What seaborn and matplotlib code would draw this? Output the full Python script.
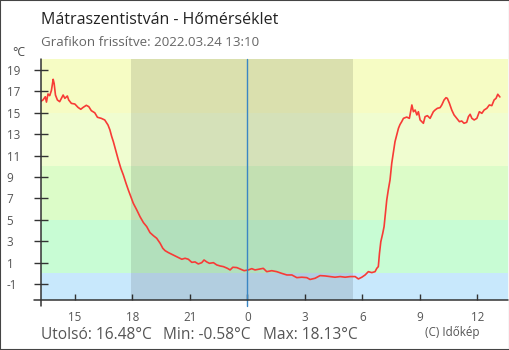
import matplotlib
matplotlib.use("Agg")
import matplotlib.pyplot as plt
from matplotlib.patches import Rectangle
import pandas as pd
import seaborn as sns

# Temperature record, hours relative to midnight of 2022-03-24
hours = [-10.80, -10.66, -10.54, -10.48, -10.40, -10.31, -10.22, -10.13, -10.08, -10.01,
         -9.91, -9.79, -9.70, -9.61, -9.52, -9.39, -9.32, -9.18, -9.00, -8.83,
         -8.69, -8.57, -8.40, -8.27, -8.14, -7.96, -7.82, -7.62, -7.44, -7.27,
         -7.17, -7.08, -6.99, -6.85, -6.73, -6.60, -6.47, -6.33, -6.21, -6.08,
         -5.95, -5.77, -5.60, -5.42, -5.25, -5.08, -4.90, -4.73, -4.55, -4.41,
         -4.29, -4.12, -3.94, -3.77, -3.60, -3.42, -3.25, -3.08, -2.90, -2.73,
         -2.56, -2.38, -2.26, -2.12, -1.98, -1.77, -1.60, -1.42, -1.25, -1.04,
         -0.90, -0.76, -0.55, -0.38, -0.17, 0.05, 0.23, 0.40, 0.57, 0.83,
         1.01, 1.27, 1.53, 1.79, 2.06, 2.32, 2.58, 2.84, 3.10, 3.27,
         3.53, 3.79, 4.05, 4.31, 4.57, 4.84, 5.10, 5.36, 5.62, 5.79,
         5.97, 6.14, 6.31, 6.49, 6.66, 6.75, 6.83, 6.89, 6.96, 7.06,
         7.13, 7.20, 7.27, 7.35, 7.44, 7.53, 7.62, 7.70, 7.79, 7.88,
         7.96, 8.05, 8.14, 8.31, 8.45, 8.58, 8.66, 8.75, 8.84, 8.92,
         9.01, 9.10, 9.18, 9.27, 9.39, 9.53, 9.62, 9.70, 9.79, 9.91,
         10.05, 10.14, 10.26, 10.36, 10.43, 10.54, 10.66, 10.78, 10.92, 11.06,
         11.18, 11.30, 11.44, 11.53, 11.62, 11.71, 11.83, 11.97, 12.10, 12.23,
         12.35, 12.49, 12.62, 12.75, 12.87, 12.97, 13.06, 13.17]
temps = [16.04, 16.20, 16.50, 16.00, 16.76, 16.60, 17.10, 18.13, 17.75, 16.66,
         16.20, 16.04, 16.35, 16.66, 16.35, 16.57, 16.20, 15.88, 15.82, 15.50,
         15.33, 15.50, 15.70, 15.57, 15.20, 15.00, 14.58, 14.48, 14.33, 13.86,
         13.40, 12.80, 12.30, 11.36, 10.59, 9.81, 9.19, 8.41, 7.79, 7.16,
         6.54, 5.92, 5.29, 4.73, 4.36, 3.80, 3.51, 3.27, 2.80, 2.33,
         2.11, 1.93, 1.77, 1.61, 1.46, 1.31, 1.40, 1.31, 1.02, 1.06,
         0.87, 0.99, 1.24, 1.06, 0.93, 0.99, 0.78, 0.68, 0.62, 0.46,
         0.31, 0.56, 0.53, 0.40, 0.24, 0.31, 0.43, 0.31, 0.37, 0.46,
         0.15, 0.24, 0.15, -0.01, -0.16, -0.16, -0.41, -0.37, -0.41, -0.58,
         -0.47, -0.22, -0.25, -0.31, -0.37, -0.31, -0.37, -0.31, -0.31, -0.53,
         -0.37, -0.16, 0.15, 0.06, 0.15, 0.46, 0.62, 1.86, 2.95, 3.73,
         4.36, 5.60, 6.85, 7.79, 8.72, 10.28, 11.36, 12.30, 12.93, 13.55,
         13.90, 14.17, 14.48, 14.60, 14.48, 15.73, 15.10, 15.26, 14.80, 15.10,
         14.33, 14.17, 14.02, 14.64, 14.73, 14.48, 14.80, 15.10, 15.26, 15.42,
         15.48, 15.73, 16.20, 16.41, 16.35, 15.88, 15.26, 14.80, 14.48, 14.17,
         14.23, 14.02, 14.11, 14.64, 14.86, 14.48, 14.33, 14.48, 15.10, 14.95,
         15.26, 15.42, 15.73, 15.67, 16.20, 16.35, 16.73, 16.48]

# Temperature bands (lower, upper, colour)
band_edges = [-2.5, 0, 5, 10, 15, 20]
band_colors = ["#c8e8fc", "#c8fcd4", "#dcfcc8", "#f0fdd0", "#f6fcc4"]

# Darkness between sunset and sunrise
night = (-6.07, 5.51)

x_ticks = [-9, -6, -3, 0, 3, 6, 9, 12]
x_labels = ["15", "18", "21", "0", "3", "6", "9", "12"]
y_ticks = [-1, 1, 3, 5, 7, 9, 11, 13, 15, 17, 19]

title = "Mátraszentistván - Hőmérséklet"
subtitle = "Grafikon frissítve: 2022.03.24 13:10"
last_val, min_val, max_val = 16.48, -0.58, 18.13

sns.set_theme(style="white")
plt.rcParams["font.family"] = ["Open Sans", "DejaVu Sans"]

W, H = 510, 350
fig = plt.figure(figsize=(W / 100, H / 100), dpi=100)
fig.patch.set_facecolor("white")
ax = fig.add_axes([40.7 / W, 1 - 300 / H, (508.5 - 40.7) / W, (300 - 59.3) / H])
ax.set_facecolor("white")

for lo, hi, c in zip(band_edges[:-1], band_edges[1:], band_colors):
    ax.axhspan(lo, hi, color=c, lw=0, zorder=0)
ax.axvspan(night[0], night[1], color="black", alpha=0.11, lw=0, zorder=1)

df = pd.DataFrame({"hour": hours, "temp": temps})
sns.lineplot(data=df, x="hour", y="temp", ax=ax, color="#f73b36", linewidth=1.2,
             estimator=None, sort=False, zorder=3)

ax.set_xlim(-10.78, 13.62)
ax.set_ylim(band_edges[0], band_edges[-1])
ax.set_xlabel("")
ax.set_ylabel("")

# Midnight marker and axis lines with a small overhang
ax.axvline(0, ymin=-0.027, ymax=1, color="#3a86c4", lw=1.0, clip_on=False, zorder=4)
for s in ["top", "right", "left", "bottom"]:
    ax.spines[s].set_visible(False)
ax.axvline(ax.get_xlim()[0], ymin=-0.027, ymax=1, color="#333333", lw=1.1, clip_on=False, zorder=5)
ax.axhline(band_edges[0], xmin=-0.015, xmax=1, color="#333333", lw=1.1, clip_on=False, zorder=5)

ax.set_xticks(x_ticks)
ax.set_xticklabels(x_labels)
ax.set_yticks(y_ticks)
ax.set_yticklabels([str(v) for v in y_ticks])
ax.tick_params(axis="x", direction="in", length=4.3, width=1.0, color="#333333",
               pad=8.0, labelsize=8.4, labelcolor="#555555", bottom=True)
ax.tick_params(axis="y", direction="inout", length=9.4, width=1.0, color="#333333",
               pad=19.8, labelsize=8.4, labelcolor="#555555", left=True)
for lab in ax.get_yticklabels():
    lab.set_horizontalalignment("left")
ax.grid(False)

fig.text(41 / W, 1 - 24 / H, title, fontsize=11.5, color="#222222", va="baseline")
fig.text(41 / W, 1 - 45.7 / H, subtitle, fontsize=9.6, color="#666666", va="baseline")
fig.text(12.5 / W, 1 - 56 / H, "°C", fontsize=8.8, color="#444444", va="baseline")

fig.text(41 / W, 1 - 339 / H, f"Utolsó: {last_val:.2f}°C", fontsize=11.2,
         color="#555555", va="baseline")
fig.text(163 / W, 1 - 339 / H, f"Min: {min_val:.2f}°C", fontsize=11.2,
         color="#555555", va="baseline")
fig.text(263 / W, 1 - 339 / H, f"Max: {max_val:.2f}°C", fontsize=11.2,
         color="#555555", va="baseline")
fig.text(425 / W, 1 - 335.7 / H, "(C) Időkép", fontsize=8.4, color="#555555", va="baseline")

fig.patches.append(Rectangle((0, 0), 1, 1, transform=fig.transFigure, fill=False,
                             edgecolor="#444444", lw=1.5, zorder=10))

fig.savefig("out.png", dpi=100)
